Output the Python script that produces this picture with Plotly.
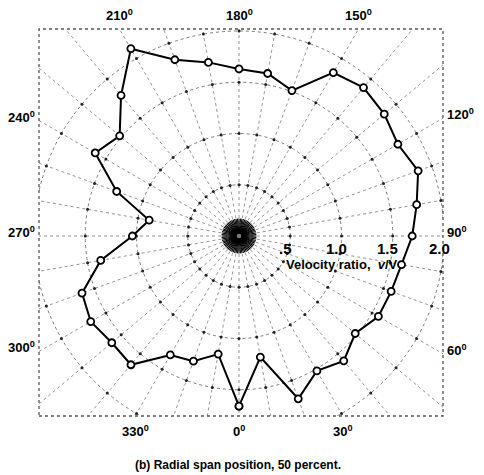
import numpy as np
import plotly.graph_objects as go

# Velocity ratio v/V around the annulus, one reading every 10 degrees
angle_deg = list(range(0, 360, 10))
velocity_ratio = [1.66, 1.20, 1.69, 1.52, 1.59, 1.48, 1.57, 1.58, 1.61, 1.69,
                  1.76, 1.86, 1.79, 1.85, 1.89, 1.84, 1.51, 1.61, 1.63, 1.72,
                  1.83, 2.11, 1.79, 1.52, 1.62, 1.27, 0.89, 1.04, 1.37, 1.63,
                  1.67, 1.62, 1.64, 1.34, 1.30, 1.17]

# Grid definition
ring_values = [0.5, 1.0, 1.5, 2.0]
ring_labels = [".5", "1.0", "1.5", "2.0"]
spoke_angles = list(range(0, 360, 10))
angle_label_values = list(range(0, 360, 30))

W, H = 484, 475
CX, CY = 239, 236          # pole, pixels from top-left
SCALE = 102.5              # pixels per unit of velocity ratio
FL, FR, FT, FB = 39, 443, 29, 416   # square frame edges, pixels
R_MAX = 2.2

GRID = "#7a7a7a"
FONT = "Liberation Sans"

fig = go.Figure()

# Radial spokes on a cartesian layer so they run out to the square frame
sx, sy = [], []
for a in spoke_angles:
    t = np.radians(a)
    sx += [0.0, 3.0 * np.sin(t), None]
    sy += [0.0, -3.0 * np.cos(t), None]
fig.add_trace(go.Scatter(x=sx, y=sy, mode="lines", hoverinfo="skip",
                         line=dict(color=GRID, width=0.8, dash="dot"),
                         showlegend=False))

# Dense star of spokes at the pole
cx_, cy_ = [], []
for a in np.arange(0, 360, 5):
    t = np.radians(a)
    cx_ += [0.025 * np.sin(t), 0.17 * np.sin(t), None]
    cy_ += [-0.025 * np.cos(t), -0.17 * np.cos(t), None]
fig.add_trace(go.Scatter(x=cx_, y=cy_, mode="lines", hoverinfo="skip",
                         line=dict(color="black", width=1.1),
                         showlegend=False))

# Dots where the rings cross the spokes
dot_r, dot_t = [], []
for r in ring_values:
    for a in spoke_angles:
        dot_r.append(r)
        dot_t.append(a)
fig.add_trace(go.Scatterpolar(r=dot_r, theta=dot_t, mode="markers",
                              hoverinfo="skip", showlegend=False,
                              marker=dict(color="#222222", size=3)))

# Measured distribution, closed loop
fig.add_trace(go.Scatterpolar(
    r=velocity_ratio + velocity_ratio[:1],
    theta=angle_deg + angle_deg[:1],
    mode="lines+markers", showlegend=False,
    line=dict(color="black", width=2),
    marker=dict(symbol="circle", size=7, color="white",
                line=dict(color="black", width=1.8)),
))

fig.update_layout(
    width=W, height=H,
    margin=dict(l=0, r=0, t=0, b=0),
    paper_bgcolor="white", plot_bgcolor="white",
    xaxis=dict(domain=[FL / W, FR / W],
               range=[(FL - CX) / SCALE, (FR - CX) / SCALE],
               visible=False, fixedrange=True),
    yaxis=dict(domain=[(H - FB) / H, (H - FT) / H],
               range=[(CY - FB) / SCALE, (CY - FT) / SCALE],
               visible=False, fixedrange=True),
    polar=dict(
        domain=dict(x=[(CX - R_MAX * SCALE) / W, (CX + R_MAX * SCALE) / W],
                    y=[(H - CY - R_MAX * SCALE) / H, (H - CY + R_MAX * SCALE) / H]),
        bgcolor="rgba(0,0,0,0)",
        radialaxis=dict(range=[0, R_MAX], tickvals=ring_values,
                        showticklabels=False, ticks="", showline=False,
                        showgrid=True, gridcolor=GRID, gridwidth=0.9,
                        griddash="dot"),
        angularaxis=dict(rotation=270, direction="counterclockwise",
                         showline=False, showgrid=False,
                         showticklabels=False, ticks=""),
    ),
)

# White margins outside the square frame, then the frame itself
for x0, x1, y0, y1 in [(0, FL, 0, H), (FR, W, 0, H), (0, W, 0, FT), (0, W, FB, H)]:
    fig.add_shape(type="rect", xref="paper", yref="paper", layer="above",
                  x0=x0 / W, x1=x1 / W, y0=1 - y1 / H, y1=1 - y0 / H,
                  line=dict(width=0), fillcolor="white")
fig.add_shape(type="rect", xref="paper", yref="paper", layer="above",
              x0=FL / W, x1=FR / W, y0=1 - FB / H, y1=1 - FT / H,
              line=dict(color="#555555", width=1.3, dash="dot"))

# Angle labels where each 30-degree spoke meets the frame
for a in angle_label_values:
    t = np.radians(a)
    dx, dy = np.sin(t), np.cos(t)    # screen direction, y downward
    hits = []
    if dx > 1e-9:
        hits.append(((FR - CX) / dx, "right"))
    if dx < -1e-9:
        hits.append(((FL - CX) / dx, "left"))
    if dy > 1e-9:
        hits.append(((FB - CY) / dy, "bottom"))
    if dy < -1e-9:
        hits.append(((FT - CY) / dy, "top"))
    d, edge = min(hits)
    px, py = CX + d * dx, CY + d * dy
    opts = dict(x=px / W, y=1 - py / H, xref="paper", yref="paper",
                text=f"<b>{a}<sup>0</sup></b>", showarrow=False,
                font=dict(family=FONT, size=13, color="black"))
    if edge == "top":
        opts.update(xanchor="center", yanchor="bottom", yshift=4)
    elif edge == "bottom":
        opts.update(xanchor="center", yanchor="top", yshift=-5)
    elif edge == "left":
        opts.update(xanchor="right", yanchor="middle", xshift=-2, yshift=4)
    else:
        opts.update(xanchor="left", yanchor="middle", xshift=2, yshift=4)
    fig.add_annotation(**opts)

# Ring values along the 90-degree spoke
for r, lab in zip(ring_values, ring_labels):
    fig.add_annotation(x=(CX + r * SCALE) / W, y=1 - 248 / H,
                       xref="paper", yref="paper", text=f"<b>{lab}</b>",
                       showarrow=False, xanchor="center", yanchor="middle",
                       xshift=-5,
                       font=dict(family=FONT, size=15, color="black"))

fig.add_annotation(x=342 / W, y=1 - 264 / H, xref="paper", yref="paper",
                   text="<b>Velocity ratio,  <i>v</i>/V</b>", showarrow=False,
                   xanchor="center", yanchor="middle",
                   font=dict(family=FONT, size=13, color="black"))

fig.add_annotation(x=238 / W, y=1 - 465 / H, xref="paper", yref="paper",
                   text="<b>(b) Radial span position, 50 percent.</b>",
                   showarrow=False, xanchor="center", yanchor="middle",
                   font=dict(family=FONT, size=12, color="black"))

fig.write_html("out.html")
